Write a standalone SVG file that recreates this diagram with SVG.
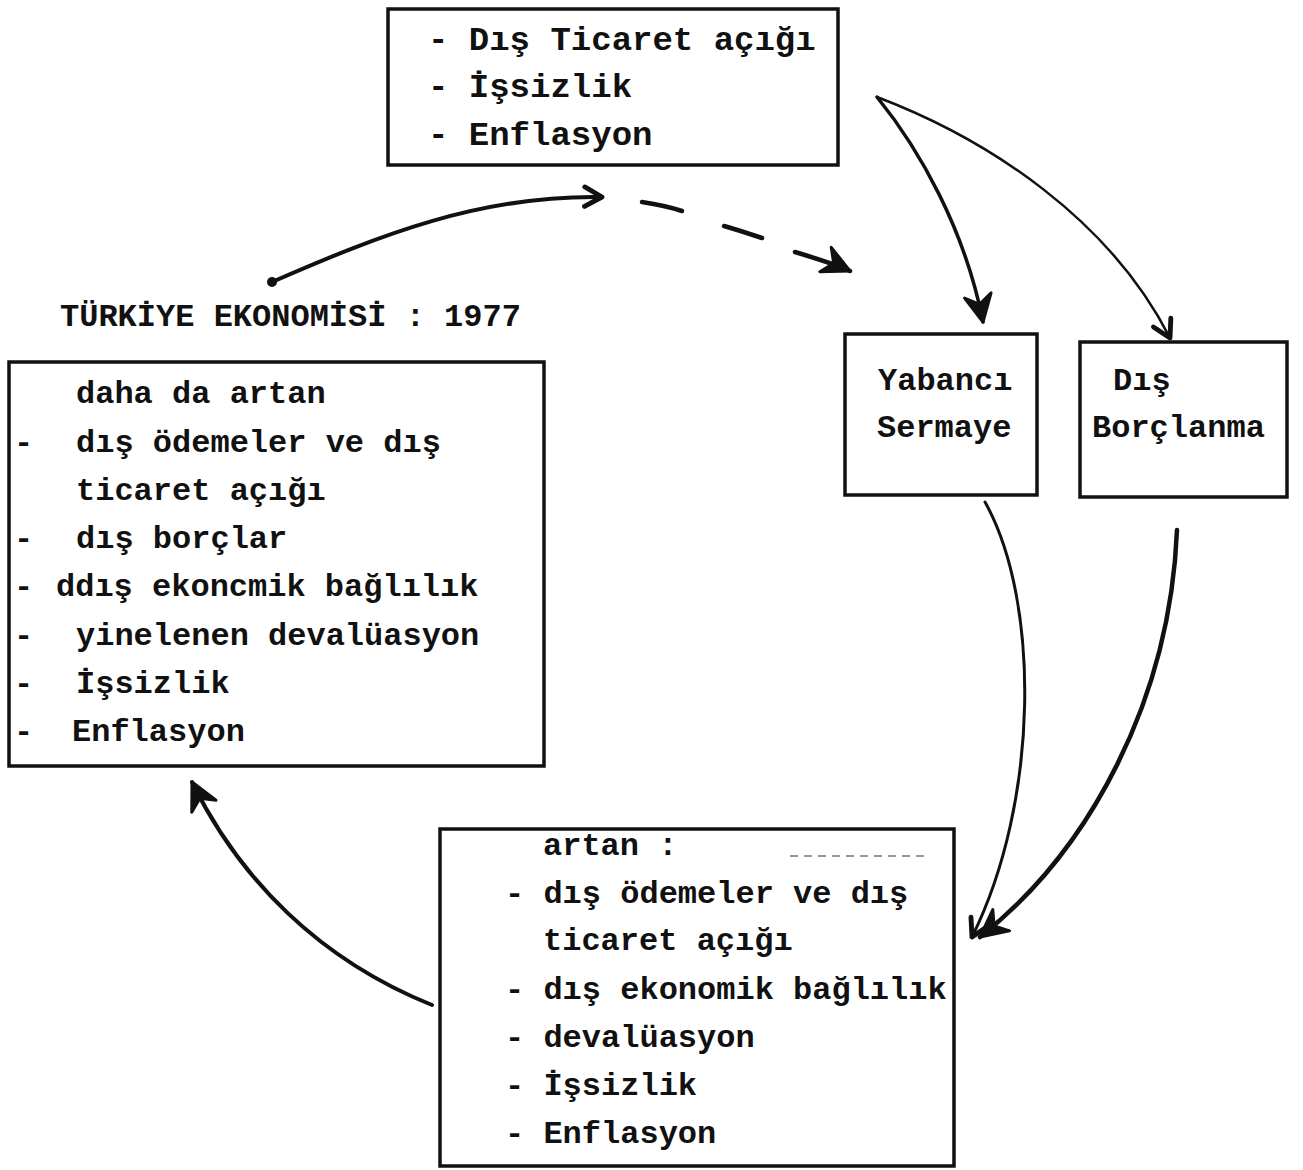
<svg xmlns="http://www.w3.org/2000/svg" width="1303" height="1170" viewBox="0 0 1303 1170">
<defs>
<style>
.box{fill:none;stroke:#111;stroke-width:3.5}
.t{font-family:"Liberation Mono","DejaVu Sans Mono",monospace;font-weight:bold;font-size:32px;fill:#111}
.tt{font-size:34px}
.c{fill:none;stroke:#111;stroke-linecap:round}
</style>
<marker id="ah" viewBox="0 0 24 24" refX="20" refY="12" markerWidth="26" markerHeight="26" markerUnits="userSpaceOnUse" orient="auto">
<path d="M4,3 L20,12 L4,21" fill="none" stroke="#111" stroke-width="4.5" stroke-linejoin="round" stroke-linecap="round"/>
</marker>
<marker id="ahf" viewBox="0 0 24 24" refX="21" refY="12" markerWidth="36" markerHeight="36" markerUnits="userSpaceOnUse" orient="auto">
<path d="M3,3 L21,12 L3,21 L9,12 Z" fill="#111" stroke="#111" stroke-width="2" stroke-linejoin="round"/>
</marker>
</defs>
<rect width="1303" height="1170" fill="#fff"/>

<g id="top-box">
<rect class="box" x="388" y="9" width="450" height="156"/>
<text class="t tt" x="428" y="50">- Dış Ticaret açığı</text>
<text class="t tt" x="428" y="97">- İşsizlik</text>
<text class="t tt" x="428" y="145">- Enflasyon</text>
</g>

<g id="title">
<text class="t" x="60" y="326">TÜRKİYE EKONOMİSİ : 1977</text>
</g>

<g id="left-box">
<rect class="box" x="9" y="362" width="535" height="404"/>
<text class="t" x="76" y="403">daha da artan</text>
<text class="t" x="14" y="452">-</text><text class="t" x="76" y="452">dış ödemeler ve dış</text>
<text class="t" x="76" y="500">ticaret açığı</text>
<text class="t" x="14" y="548">-</text><text class="t" x="76" y="548">dış borçlar</text>
<text class="t" x="14" y="596">-</text><text class="t" x="56" y="596">ddış ekoncmik bağlılık</text>
<text class="t" x="14" y="645">-</text><text class="t" x="76" y="645">yinelenen devalüasyon</text>
<text class="t" x="14" y="693">-</text><text class="t" x="76" y="693">İşsizlik</text>
<text class="t" x="14" y="741">-</text><text class="t" x="72" y="741">Enflasyon</text>
</g>

<g id="yabanci-box">
<rect class="box" x="845" y="334" width="192" height="161"/>
<text class="t" x="878" y="390">Yabancı</text>
<text class="t" x="877" y="437">Sermaye</text>
</g>

<g id="borc-box">
<rect class="box" x="1080" y="342" width="207" height="155"/>
<text class="t" x="1113" y="390">Dış</text>
<text class="t" x="1092" y="437">Borçlanma</text>
</g>

<g id="bottom-box">
<rect class="box" x="440" y="829" width="514" height="337"/>
<text class="t" x="543" y="855">artan :</text>
<line x1="790" y1="856" x2="925" y2="856" stroke="#777" stroke-width="1.5" stroke-dasharray="8 6"/>
<text class="t" x="505" y="903">- dış ödemeler ve dış</text>
<text class="t" x="543" y="950">ticaret açığı</text>
<text class="t" x="505" y="999">- dış ekonomik bağlılık</text>
<text class="t" x="505" y="1047">- devalüasyon</text>
<text class="t" x="505" y="1095">- İşsizlik</text>
<text class="t" x="505" y="1143">- Enflasyon</text>
</g>

<g id="connectors">
<circle cx="272" cy="282" r="5" fill="#111"/>
<path class="c" d="M272,282 C380,235 480,195 602,197" stroke-width="4" marker-end="url(#ah)"/>
<path class="c" d="M642,202 C655,204 670,207 682,211" stroke-width="4.5"/>
<path class="c" d="M724,226 C738,230 750,234 762,238" stroke-width="4.5"/>
<path class="c" d="M795,252 C815,258 835,264 850,271" stroke-width="4.5" marker-end="url(#ahf)"/>
<path class="c" d="M877,97 C920,150 965,230 983,322" stroke-width="3.5" marker-end="url(#ahf)"/>
<path class="c" d="M877,97 C990,140 1110,220 1170,338" stroke-width="2.5" marker-end="url(#ah)"/>
<path class="c" d="M985,502 C1040,600 1040,800 972,937" stroke-width="3" marker-end="url(#ah)"/>
<path class="c" d="M1177,530 C1170,700 1090,850 980,937" stroke-width="4.5" marker-end="url(#ahf)"/>
<path class="c" d="M432,1005 C320,960 240,880 192,782" stroke-width="4" marker-end="url(#ahf)"/>
</g>
</svg>
